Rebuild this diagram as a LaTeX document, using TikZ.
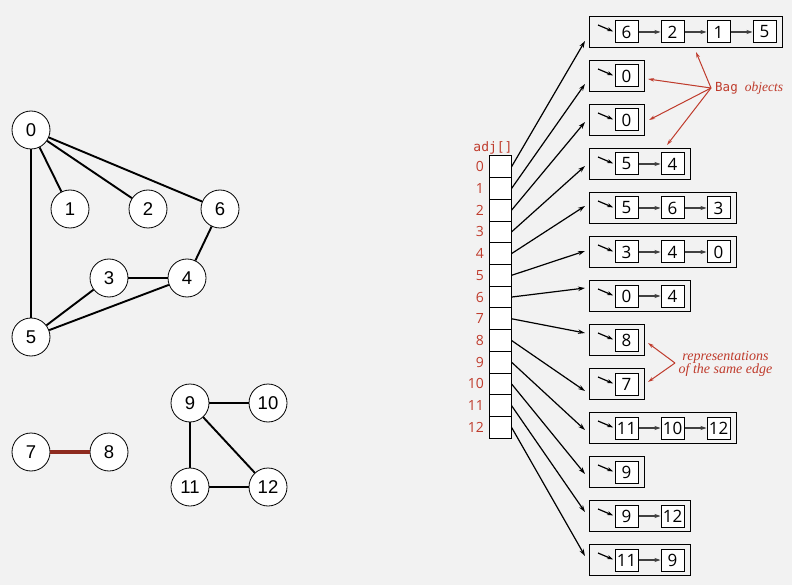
\documentclass[tikz,border=0pt]{standalone}
\usepackage{fontspec}
\setmainfont{Liberation Serif}
\newfontfamily\gfont{Liberation Sans}
\newfontfamily\lfont{Open Sans}
\newfontfamily\mfont{DejaVu Sans Mono}
\usetikzlibrary{arrows.meta}
\definecolor{bgc}{HTML}{F2F2F2}
\definecolor{redc}{HTML}{BF3B2C}
\definecolor{edgered}{HTML}{8E2B1F}
\begin{document}
\begin{tikzpicture}[x=1pt,y=-1pt,
  vtx/.style={circle,draw,fill=white,minimum size=38pt,inner sep=0pt,line width=0.8pt,font=\gfont\fontsize{18.5}{18.5}\selectfont},
  gedge/.style={line width=1.9pt},
  cellbox/.style={draw,fill=white,minimum width=22pt,minimum height=21.7pt,inner sep=0pt,line width=1pt},
  itembox/.style={draw,fill=white,minimum width=23pt,minimum height=22pt,inner sep=0pt,line width=1pt,font=\lfont\fontsize{17}{17}\selectfont},
  bagbox/.style={draw,inner sep=0pt,line width=1pt},
  ptr/.style={-{Stealth[length=7pt,width=4.5pt]},line width=1.2pt},
  lead/.style={-{Stealth[length=6pt,width=4pt]},line width=1.2pt,shorten >=1.5pt},
  nxt/.style={-{Stealth[length=6pt,width=4pt]},line width=1.1pt,draw=black!75},
  lab/.style={text=redc,inner sep=0pt,font=\lfont\fontsize{14}{14}\selectfont},
  note/.style={-{Stealth[length=6pt,width=3.5pt]},draw=redc,line width=1pt},
]
\fill[bgc] (0,0) rectangle (792,585);
\useasboundingbox (0,0) rectangle (792,585);

% graph
\node[vtx] (g0) at (31,130) {0};
\node[vtx] (g1) at (70,209) {1};
\node[vtx] (g2) at (148,209) {2};
\node[vtx] (g6) at (220,209) {6};
\node[vtx] (g3) at (109,278) {3};
\node[vtx] (g4) at (187,278) {4};
\node[vtx] (g5) at (31,337) {5};
\node[vtx] (g7) at (31,452) {7};
\node[vtx] (g8) at (109,452) {8};
\node[vtx] (g9) at (190,403) {9};
\node[vtx] (g10) at (268,403) {10};
\node[vtx] (g11) at (190,487) {11};
\node[vtx] (g12) at (268,487) {12};
\draw[gedge] (g0) -- (g1);
\draw[gedge] (g0) -- (g2);
\draw[gedge] (g0) -- (g6);
\draw[gedge] (g0) -- (g5);
\draw[gedge] (g6) -- (g4);
\draw[gedge] (g3) -- (g4);
\draw[gedge] (g3) -- (g5);
\draw[gedge] (g4) -- (g5);
\draw[gedge] (g9) -- (g10);
\draw[gedge] (g9) -- (g11);
\draw[gedge] (g9) -- (g12);
\draw[gedge] (g11) -- (g12);
\draw[line width=4.5pt,draw=edgered] (g7) -- (g8);

% array
\node[text=redc,inner sep=0pt,font=\mfont\fontsize{13}{13}\selectfont] (adj) at (493,148) {adj[]};
\foreach \i in {0,...,12}{
  \node[cellbox] (c\i) at (500,{156+10.85+21.7*\i}) {};
  \node[lab,anchor=east] (l\i) at (484,{156+10.85+21.7*\i}) {\i};
}

% lists
\foreach \i/\n/\off/\items in {0/4/25/{6,2,1,5},1/1/24/{0},2/1/18/{0},3/2/18/{5,4},4/3/14/{5,6,3},5/3/15/{3,4,0},6/2/8/{0,4},7/1/9/{8},8/1/23/{7},9/3/18/{11,10,12},10/1/18/{9},11/2/12/{9,12},12/2/12/{11,9}}{
  \node[bagbox,anchor=north west,minimum width={55pt+46pt*(\n-1)},minimum height=31pt] (L\i) at (589,{16+44*\i}) {};
  \foreach \v [count=\k from 0] in \items {
    \node[itembox] (L\i-\k) at ({626.5+46*\k},{32+44*\i}) {\v};
    \ifnum\k>0
      \pgfmathtruncatemacro\pk{\k-1}
      \draw[nxt] (L\i-\pk.east) -- (L\i-\k.west);
    \fi
  }
  \coordinate (s\i) at (598,{25+44*\i});
  \draw[lead] (s\i) -- (L\i-0.west);
  \coordinate (e\i) at (585,{16+44*\i+\off});
  \draw[ptr] (c\i.east) -- (e\i);
}

% annotations
\node[anchor=west,text=redc,inner sep=0pt] (bag) at (715,88) {{\mfont\fontsize{12.5}{12.5}\selectfont Bag}\hspace{7pt}{\fontsize{13.5}{13.5}\selectfont\itshape objects}};
\coordinate (bsrc) at (711,88);
\coordinate (b0) at (696,52);
\coordinate (b1) at (648,79);
\coordinate (b2) at (649,120);
\coordinate (b3) at (667,145);
\foreach \t in {b0,b1,b2,b3} \draw[note] (bsrc) -- (\t);

\node[text=redc,inner sep=0pt,align=center,font=\fontsize{14}{13}\selectfont\itshape] (rep) at (725.5,364) {representations\\of the same edge};
\coordinate (rsrc) at (675,363);
\coordinate (r0) at (648,343);
\coordinate (r1) at (648,382);
\draw[note] (rsrc) -- (r0);
\draw[note] (rsrc) -- (r1);
\end{tikzpicture}
\end{document}
